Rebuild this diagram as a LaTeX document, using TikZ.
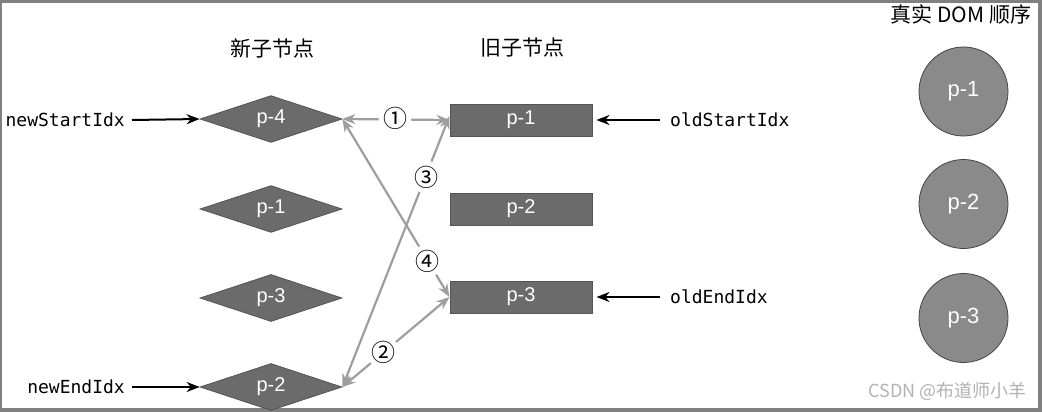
\documentclass[tikz,border=0pt]{standalone}
\usepackage{fontspec}
\setmainfont{Liberation Sans}
\newfontfamily\cjk{Noto Sans CJK SC}
\newfontfamily\monof{DejaVu Sans Mono}
\usetikzlibrary{shapes.geometric,arrows.meta}
\definecolor{boxfill}{HTML}{6B6B6B}
\definecolor{boxline}{HTML}{555555}
\definecolor{circfill}{HTML}{8A8A8A}
\definecolor{circline}{HTML}{444444}
\definecolor{linkgray}{HTML}{9E9E9E}
\definecolor{framegray}{HTML}{808080}
\begin{document}
\begin{tikzpicture}[x=1pt,y=-1pt,
  newnode/.style={diamond, fill=boxfill, draw=boxline, line width=0.8pt, minimum width=142pt, minimum height=40pt, inner sep=0pt, text=white, font=\fontsize{20}{20}\selectfont},
  oldnode/.style={rectangle, fill=boxfill, draw=boxline, line width=1pt, minimum width=142pt, minimum height=32pt, inner sep=0pt, text=white, font=\fontsize{20}{20}\selectfont},
  domnode/.style={circle, fill=circfill, draw=circline, line width=0.8pt, minimum size=89pt, inner sep=0pt, text=white, font=\fontsize{22}{22}\selectfont},
  header/.style={font=\cjk\fontsize{21}{21}\selectfont, inner sep=0pt},
  idxlabel/.style={font=\monof\fontsize{18}{18}\selectfont, inner sep=0pt},
  pointer/.style={line width=2pt, black, -{Stealth[length=13pt,width=10pt]}},
  link/.style={line width=2.2pt, linkgray, {Stealth[length=13pt,width=10pt]}-{Stealth[length=13pt,width=10pt]}},
  steplabel/.style={circle, fill=white, inner sep=0pt, font=\cjk\fontsize{24}{24}\selectfont}
]
\useasboundingbox (0,0) rectangle (1042,412);
\fill[framegray] (0,0) rectangle (1042,412);
\fill[white] (2,3) rectangle (1038,408);

% headers
\node[header] (hnew) at (272,48) {新子节点};
\node[header] (hold) at (522,48) {旧子节点};
\node[header] (hdom) at (961,14) {真实 DOM 顺序};

% new children
\node[newnode] (n4) at (271,119) {p-4};
\node[newnode] (n1) at (271,209) {p-1};
\node[newnode] (n3) at (271,298) {p-3};
\node[newnode] (n2) at (271,387) {p-2};

% old children
\node[oldnode] (o1) at (521,120) {p-1};
\node[oldnode] (o2) at (521,209) {p-2};
\node[oldnode] (o3) at (521,297) {p-3};

% real DOM
\node[domnode] (d1) at (963.5,91.5) {p-1};
\node[domnode] (d2) at (963.5,204) {p-2};
\node[domnode] (d3) at (963.5,318) {p-3};

% index labels
\node[idxlabel, anchor=east] (nsi) at (125,120) {newStartIdx};
\node[idxlabel, anchor=east] (nei) at (125,387) {newEndIdx};
\node[idxlabel, anchor=west] (osi) at (670,120) {oldStartIdx};
\node[idxlabel, anchor=west] (oei) at (670,297) {oldEndIdx};

\draw[pointer] ([xshift=7pt]nsi.east) -- (n4.west);
\draw[pointer] ([xshift=7pt]nei.east) -- (n2.west);
\draw[pointer] ([xshift=-10pt]osi.west) -- ([xshift=4pt]o1.east);
\draw[pointer] ([xshift=-10pt]oei.west) -- ([xshift=4pt]o3.east);

% comparison links
\draw[link] (n4.east) -- (o1.west);
\draw[link] (n2.east) -- (o3.west);
\draw[link] (n2.east) -- ([yshift=4pt]o1.west);
\draw[link] (n4.east) -- (o3.west);

\node[steplabel] (s1) at (395,118) {①};
\node[steplabel] (s2) at (383,352) {②};
\node[steplabel] (s3) at (426,177) {③};
\node[steplabel] (s4) at (427,261) {④};

% watermark
\node[font=\cjk\fontsize{18}{18}\selectfont, text=black!30, inner sep=0pt, anchor=east] (wm) at (1027,391) {CSDN @布道师小羊};
\end{tikzpicture}
\end{document}
